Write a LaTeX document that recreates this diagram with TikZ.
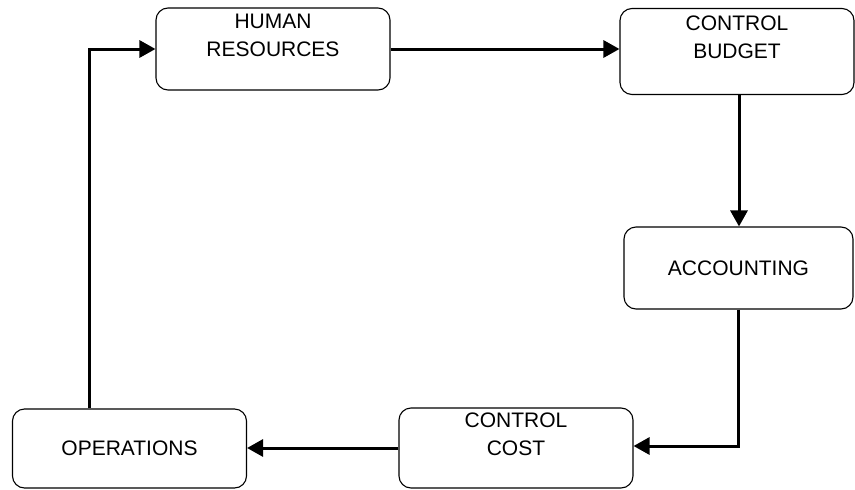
\documentclass[tikz,border=0pt]{standalone}
\usepackage{fontspec}
\setmainfont{Liberation Sans}
\usetikzlibrary{arrows.meta,positioning}
\tikzset{
  unit/.style={draw,line width=1.1pt,rounded corners=12pt,minimum width=234pt,
    minimum height=82pt,align=center,inner sep=0pt,font=\fontsize{21}{28}\selectfont},
  flow/.style={line width=3pt,-{Triangle[length=16pt,width=17pt]}}
}
\begin{document}
\begin{tikzpicture}[x=1pt,y=-1pt]
        \useasboundingbox (0,0) rectangle (855,490);
        \node[unit](HR) at (273,49) {HUMAN\\RESOURCES\\\mbox{}};
        \node[unit,minimum height=86pt](CB) at (737,51.5) {CONTROL\\BUDGET\\\mbox{}};
        \node[unit,minimum width=229pt](ACC) at (738.5,268) {ACCOUNTING};
        \node[unit,minimum height=80pt](CC) at (516,448) {CONTROL\\COST\\\mbox{}};
        \node[unit,minimum height=79pt](OPS) at (129.5,448.5) {OPERATIONS};

        \begin{scope}
          \draw[flow] (HR.east) -- (HR.east -| CB.west);
          \draw[flow] ([xshift=2pt]CB.south) -- ([xshift=2pt]CB.south |- ACC.north);
          \draw[flow] (ACC.south) |- ([yshift=2pt]CC.east);
          \draw[flow] (CC.west) -- (OPS.east |- CC.west);
          \draw[flow] ([xshift=-40pt]OPS.north) |- (HR.west);
        \end{scope}
      \end{tikzpicture}
\end{document}
